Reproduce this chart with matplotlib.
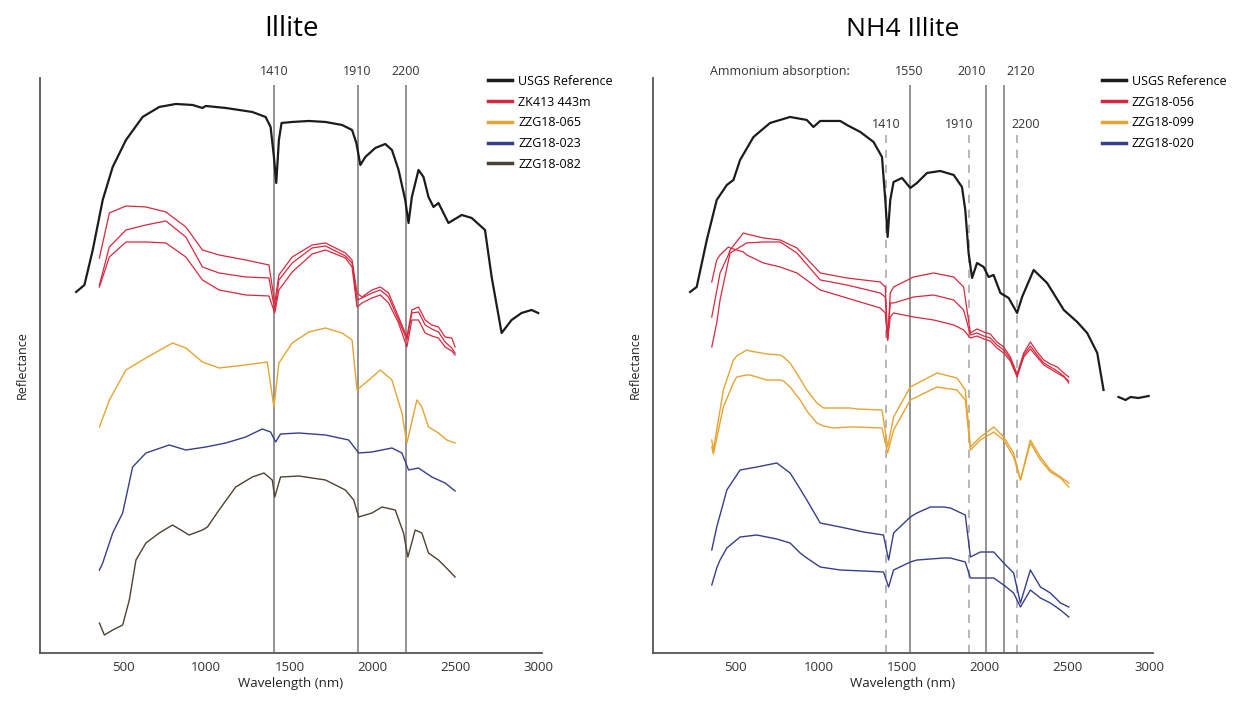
import numpy as np
import matplotlib
matplotlib.use('Agg')
import matplotlib.pyplot as plt

plt.rcParams['font.family'] = ['Open Sans', 'DejaVu Sans']

# ---------------- Illite (left) ----------------
usgs_L_nm = [217, 267, 317, 377, 437, 517, 617, 717, 817, 917, 977, 997, 1117, 1277, 1357, 1387, 1407, 1421,
             1437, 1453, 1517, 1617, 1717, 1817, 1877, 1903, 1927, 1957, 2017, 2077, 2117, 2157, 2197, 2217,
             2237, 2277, 2307, 2337, 2367, 2397, 2457, 2537, 2597, 2677, 2717, 2777, 2837, 2897, 2957, 2997]
usgs_L = [3.61, 3.68, 4.03, 4.53, 4.86, 5.13, 5.36, 5.46, 5.49, 5.48, 5.45, 5.47, 5.45, 5.41, 5.36, 5.26, 4.96, 4.70,
          5.13, 5.30, 5.31, 5.32, 5.31, 5.28, 5.23, 5.10, 4.88, 4.96, 5.05, 5.09, 5.03, 4.83, 4.53, 4.30,
          4.56, 4.83, 4.76, 4.56, 4.46, 4.50, 4.30, 4.38, 4.35, 4.23, 3.76, 3.20, 3.33, 3.40, 3.43, 3.40]

zk_nm = [357, 417, 517, 637, 757, 877, 977, 1077, 1237, 1377, 1412, 1437, 1517, 1637, 1717, 1837, 1877, 1907,
         1937, 1997, 2047, 2097, 2157, 2207, 2237, 2277, 2317, 2357, 2397, 2437, 2477, 2497]
zk_a = [3.95, 4.40, 4.47, 4.46, 4.41, 4.26, 4.03, 3.98, 3.93, 3.88, 3.50, 3.78, 3.96, 4.08, 4.10, 4.00, 3.93, 3.60,
        3.56, 3.63, 3.66, 3.60, 3.36, 3.16, 3.43, 3.46, 3.33, 3.28, 3.26, 3.16, 3.15, 3.06]
zk_b = [3.68, 4.06, 4.23, 4.28, 4.32, 4.16, 3.86, 3.80, 3.76, 3.75, 3.43, 3.73, 3.90, 4.05, 4.07, 3.97, 3.90, 3.53,
        3.55, 3.60, 3.63, 3.56, 3.33, 3.13, 3.40, 3.41, 3.28, 3.24, 3.21, 3.11, 3.05, 3.00]
zk_c = [3.66, 3.96, 4.11, 4.11, 4.10, 3.96, 3.73, 3.63, 3.58, 3.57, 3.40, 3.63, 3.81, 3.99, 4.03, 3.95, 3.86, 3.46,
        3.50, 3.55, 3.58, 3.50, 3.30, 3.06, 3.33, 3.33, 3.20, 3.17, 3.15, 3.06, 3.02, 2.98]

z065_nm = [357, 417, 517, 637, 797, 877, 977, 1077, 1237, 1367, 1407, 1437, 1517, 1617, 1717, 1817, 1877, 1907,
           1957, 2047, 2117, 2177, 2207, 2267, 2297, 2337, 2397, 2447, 2497]
z065 = [2.26, 2.53, 2.83, 2.95, 3.10, 3.05, 2.91, 2.85, 2.88, 2.91, 2.46, 2.90, 3.10, 3.21, 3.25, 3.20, 3.13, 2.63,
        2.70, 2.83, 2.73, 2.40, 2.10, 2.53, 2.46, 2.26, 2.20, 2.13, 2.10]

z023_nm = [357, 377, 437, 497, 557, 637, 777, 877, 997, 1117, 1237, 1337, 1387, 1417, 1447, 1557, 1717, 1857,
           1917, 1997, 2117, 2177, 2217, 2277, 2357, 2437, 2497]
z023 = [0.83, 0.90, 1.20, 1.40, 1.86, 2.00, 2.08, 2.03, 2.06, 2.10, 2.16, 2.24, 2.21, 2.11, 2.19, 2.20, 2.18, 2.13,
        2.00, 2.01, 2.05, 2.00, 1.83, 1.85, 1.76, 1.70, 1.62]

z082_nm = [357, 387, 437, 497, 537, 577, 637, 717, 797, 897, 977, 1007, 1077, 1177, 1277, 1347, 1397, 1412, 1447,
           1557, 1717, 1837, 1887, 1917, 1997, 2057, 2137, 2187, 2213, 2257, 2297, 2337, 2397, 2457, 2497]
z082 = [0.30, 0.18, 0.23, 0.28, 0.53, 0.93, 1.10, 1.20, 1.28, 1.18, 1.23, 1.26, 1.43, 1.66, 1.76, 1.80, 1.73, 1.56,
        1.76, 1.77, 1.73, 1.63, 1.53, 1.36, 1.40, 1.46, 1.43, 1.20, 0.96, 1.23, 1.20, 1.00, 0.93, 0.83, 0.76]

lines_L = [1410, 1910, 2200]

# ---------------- NH4 Illite (right) ----------------
usgs_R_nm = [224, 264, 325, 385, 446, 486, 526, 607, 707, 828, 929, 969, 1010, 1131, 1171, 1252, 1332, 1383, 1403,
             1417, 1433, 1453, 1504, 1554, 1594, 1655, 1735, 1816, 1866, 1886, 1906, 1927, 1957, 1997, 2027, 2057,
             2098, 2148, 2199, 2229, 2299, 2380, 2481, 2562, 2622, 2683, 2721, 2765,
             2811, 2854, 2884, 2932, 2993]
usgs_R = [3.61, 3.66, 4.13, 4.53, 4.68, 4.73, 4.93, 5.16, 5.30, 5.36, 5.33, 5.26, 5.32, 5.32, 5.28, 5.21, 5.11, 4.96,
          4.53, 4.16, 4.53, 4.71, 4.75, 4.65, 4.70, 4.80, 4.82, 4.78, 4.66, 4.43, 4.00, 3.75, 3.90, 3.86, 3.76, 3.78,
          3.60, 3.55, 3.40, 3.56, 3.83, 3.70, 3.43, 3.31, 3.20, 3.00, 2.63, np.nan,
          2.56, 2.53, 2.56, 2.55, 2.57]

z056_nm = [355, 385, 405, 455, 466, 546, 566, 667, 768, 869, 1010, 1171, 1372, 1403, 1417, 1433, 1453, 1574, 1695,
           1816, 1876, 1917, 1957, 1997, 2037, 2077, 2118, 2158, 2199, 2239, 2279, 2320, 2360, 2400, 2441, 2481, 2511]
z056_a = [3.71, 3.93, 3.98, 4.06, 4.05, 4.01, 3.98, 3.90, 3.86, 3.80, 3.63, 3.55, 3.45, 3.40, 3.13, 3.36, 3.40, 3.36,
          3.33, 3.28, 3.23, 3.15, 3.17, 3.14, 3.12, 3.05, 3.00, 2.92, 2.76, 2.96, 3.04, 2.96, 2.88, 2.84, 2.80, 2.76, 2.72]
z056_b = [3.36, 3.62, 3.80, 3.98, 4.03, 4.20, 4.19, 4.15, 4.13, 4.05, 3.80, 3.75, 3.71, 3.66, 3.13, 3.60, 3.66, 3.76,
          3.80, 3.76, 3.66, 3.20, 3.24, 3.21, 3.19, 3.11, 3.06, 2.96, 2.79, 3.00, 3.11, 3.01, 2.93, 2.89, 2.86, 2.80, 2.76]
z056_c = [3.06, 3.30, 3.53, 3.92, 4.00, 4.08, 4.10, 4.11, 4.11, 4.00, 3.73, 3.68, 3.60, 3.56, 3.13, 3.50, 3.50, 3.56,
          3.58, 3.53, 3.43, 3.18, 3.20, 3.17, 3.15, 3.08, 3.03, 2.94, 2.77, 2.98, 3.07, 2.98, 2.90, 2.86, 2.82, 2.77, 2.70]

z099_nm = [355, 365, 425, 486, 506, 566, 586, 687, 768, 788, 828, 889, 929, 990, 1030, 1090, 1191, 1231, 1383, 1417,
           1453, 1554, 1715, 1836, 1886, 1917, 1977, 2058, 2118, 2178, 2219, 2279, 2340, 2400, 2461, 2511]
z099_a = [2.13, 2.03, 2.63, 2.93, 2.97, 3.03, 3.02, 2.99, 2.98, 2.96, 2.90, 2.74, 2.63, 2.50, 2.45, 2.45, 2.45, 2.44,
          2.43, 2.06, 2.36, 2.66, 2.80, 2.75, 2.63, 2.06, 2.16, 2.26, 2.16, 2.00, 1.73, 2.13, 1.96, 1.83, 1.76, 1.70]
z099_b = [2.06, 1.99, 2.46, 2.70, 2.76, 2.78, 2.78, 2.73, 2.73, 2.72, 2.66, 2.53, 2.42, 2.30, 2.27, 2.25, 2.26, 2.26,
          2.25, 2.00, 2.23, 2.53, 2.66, 2.63, 2.53, 2.03, 2.13, 2.21, 2.13, 1.96, 1.73, 2.10, 1.93, 1.81, 1.75, 1.66]

z020_nm = [355, 385, 405, 446, 526, 627, 748, 828, 889, 929, 1010, 1131, 1272, 1392, 1423, 1453, 1554, 1594, 1675,
           1755, 1796, 1886, 1917, 1977, 2058, 2118, 2178, 2219, 2279, 2340, 2400, 2461, 2511]
z020_a = [1.03, 1.26, 1.38, 1.63, 1.83, 1.86, 1.90, 1.80, 1.64, 1.53, 1.30, 1.26, 1.21, 1.18, 0.93, 1.20, 1.36, 1.40,
          1.46, 1.46, 1.45, 1.38, 0.96, 1.01, 1.01, 0.90, 0.80, 0.50, 0.83, 0.66, 0.60, 0.50, 0.46]
z020_b = [0.68, 0.85, 0.93, 1.05, 1.16, 1.18, 1.14, 1.10, 1.00, 0.95, 0.86, 0.83, 0.82, 0.81, 0.66, 0.83, 0.91, 0.93,
          0.94, 0.95, 0.95, 0.91, 0.75, 0.75, 0.75, 0.68, 0.60, 0.46, 0.63, 0.55, 0.50, 0.43, 0.36]

lines_R_solid = [1550, 2010, 2120]
lines_R_dash = [1410, 1910, 2200]

black = '#1c1c1c'
red = '#d8283e'
orange = '#e6a432'
blue = '#363f8e'
brown = '#4e4230'
grey = '#8a8a8a'

fig = plt.figure(figsize=(12.44, 7.03), dpi=100)
axL = fig.add_axes([0.0322, 0.0711, 0.4035, 0.818])
axR = fig.add_axes([0.5249, 0.0711, 0.4020, 0.818])

for ax in (axL, axR):
    ax.set_xlim(0, 3020)
    ax.set_ylim(0, 5.75)
    ax.set_xticks([500, 1000, 1500, 2000, 2500, 3000])
    ax.set_yticks([])
    ax.spines['top'].set_visible(False)
    ax.spines['right'].set_visible(False)
    ax.spines['left'].set_color('#555555')
    ax.spines['bottom'].set_color('#555555')
    ax.spines['left'].set_linewidth(1.3)
    ax.spines['bottom'].set_linewidth(1.3)
    ax.tick_params(axis='x', length=0, labelsize=9.5, colors='#333333', pad=6)
    ax.set_xlabel('Wavelength (nm)', fontsize=9.5, color='#222222', labelpad=2)
    ax.set_ylabel('Reflectance', fontsize=9, color='#222222', labelpad=8)

# left plot
for x in lines_L:
    axL.vlines(x, 0, 5.68, color=grey, lw=1.3, zorder=1)
    axL.text(x, 5.81, str(x), ha='center', va='center', fontsize=9, color='#333333')
axL.plot(usgs_L_nm, usgs_L, color=black, lw=1.6, label='USGS Reference')
axL.plot(zk_nm, zk_a, color=red, lw=0.9, label='ZK413 443m')
axL.plot(zk_nm, zk_b, color=red, lw=0.9)
axL.plot(zk_nm, zk_c, color=red, lw=0.9)
axL.plot(z065_nm, z065, color=orange, lw=1.0, label='ZZG18-065')
axL.plot(z023_nm, z023, color=blue, lw=1.0, label='ZZG18-023')
axL.plot(z082_nm, z082, color=brown, lw=1.0, label='ZZG18-082')
axL.set_title('Illite', fontsize=20, pad=30)
leg = axL.legend(loc='upper left', bbox_to_anchor=(0.87, 1.025), frameon=False, fontsize=9,
                 handlelength=1.9, handletextpad=0.5, labelspacing=0.62)
for h in leg.get_lines():
    h.set_linewidth(2.5)

# right plot
for x in lines_R_solid:
    axR.vlines(x, 0, 5.68, color='#777777', lw=1.1, zorder=1)
for x in lines_R_dash:
    axR.vlines(x, 0, 5.18, color='#aaaaaa', lw=1.2, linestyles=(0, (5, 4)), zorder=1)
axR.text(1550, 5.81, '1550', ha='center', va='center', fontsize=9, color='#333333')
axR.text(1925, 5.81, '2010', ha='center', va='center', fontsize=9, color='#333333')
axR.text(2220, 5.81, '2120', ha='center', va='center', fontsize=9, color='#333333')
axR.text(1190, 5.81, 'Ammonium absorption:', ha='right', va='center', fontsize=9, color='#333333')
axR.text(1410, 5.28, '1410', ha='center', va='center', fontsize=9, color='#333333')
axR.text(1850, 5.28, '1910', ha='center', va='center', fontsize=9, color='#333333')
axR.text(2250, 5.28, '2200', ha='center', va='center', fontsize=9, color='#333333')
axR.plot(usgs_R_nm, usgs_R, color=black, lw=1.6, label='USGS Reference')
axR.plot(z056_nm, z056_a, color=red, lw=0.9, label='ZZG18-056')
axR.plot(z056_nm, z056_b, color=red, lw=0.9)
axR.plot(z056_nm, z056_c, color=red, lw=0.9)
axR.plot(z099_nm, z099_a, color=orange, lw=1.0, label='ZZG18-099')
axR.plot(z099_nm, z099_b, color=orange, lw=1.0)
axR.plot(z020_nm, z020_a, color=blue, lw=1.0, label='ZZG18-020')
axR.plot(z020_nm, z020_b, color=blue, lw=1.0)
axR.set_title('NH4 Illite', fontsize=19, pad=30)
leg = axR.legend(loc='upper left', bbox_to_anchor=(0.875, 1.025), frameon=False, fontsize=9,
                 handlelength=1.9, handletextpad=0.5, labelspacing=0.62)
for h in leg.get_lines():
    h.set_linewidth(2.5)

fig.savefig('out.png', dpi=100)
